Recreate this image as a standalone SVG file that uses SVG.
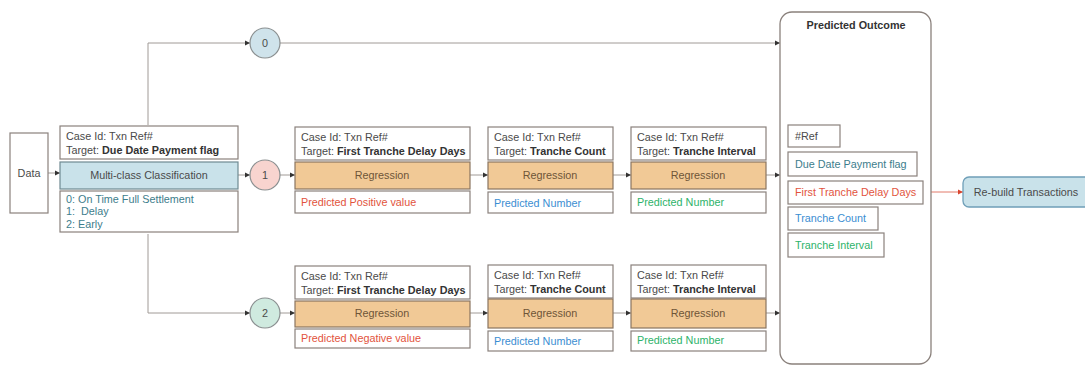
<svg xmlns="http://www.w3.org/2000/svg" width="1085" height="366" viewBox="0 0 1085 366">
<style>
text{font-family:"Liberation Sans",Arial,sans-serif;font-size:10.8px;fill:#4a4a4a}
.b{font-weight:bold;fill:#333}
.box{fill:#fff;stroke:#8a817c;stroke-width:1.2}
.reg{fill:#f1c996;stroke:#8a7560;stroke-width:1.2}
.cls{fill:#c9e2ea;stroke:#6f8a92;stroke-width:1.2}
.ln{fill:none;stroke:#a09a96;stroke-width:1}
.c{text-anchor:middle}
.rt{fill:#6e5538}
.teal{fill:#3d7d8c}.red{fill:#e2533d}.blue{fill:#3b8ed2}.green{fill:#2db36a}
</style>
<defs>
<marker id="ah" markerWidth="6" markerHeight="6" refX="5" refY="3" orient="auto" markerUnits="userSpaceOnUse"><path d="M0,0.5 L5,3 L0,5.5 Z" fill="#333"/></marker>
<marker id="ahr" markerWidth="6" markerHeight="6" refX="5" refY="3" orient="auto" markerUnits="userSpaceOnUse"><path d="M0,0.5 L5,3 L0,5.5 Z" fill="#d9442e"/></marker>
</defs>
<g id="connectors">
<line class="ln" x1="48" y1="173" x2="60" y2="173" marker-end="url(#ah)"/>
<polyline class="ln" points="148,125 148,43 250,43" marker-end="url(#ah)"/>
<line class="ln" x1="280" y1="43" x2="780" y2="43" marker-end="url(#ah)"/>
<line class="ln" x1="238" y1="175" x2="250" y2="175" marker-end="url(#ah)"/>
<line class="ln" x1="280" y1="175" x2="295" y2="175" marker-end="url(#ah)"/>
<line class="ln" x1="470" y1="175" x2="488" y2="175" marker-end="url(#ah)"/>
<line class="ln" x1="613" y1="175" x2="631" y2="175" marker-end="url(#ah)"/>
<line class="ln" x1="766" y1="175" x2="780" y2="175" marker-end="url(#ah)"/>
<polyline class="ln" points="148,234 148,313 250,313" marker-end="url(#ah)"/>
<line class="ln" x1="280" y1="313" x2="295" y2="313" marker-end="url(#ah)"/>
<line class="ln" x1="470" y1="313" x2="488" y2="313" marker-end="url(#ah)"/>
<line class="ln" x1="613" y1="313" x2="631" y2="313" marker-end="url(#ah)"/>
<line class="ln" x1="766" y1="313" x2="780" y2="313" marker-end="url(#ah)"/>
<line x1="930" y1="192" x2="963" y2="192" stroke="#e27a6a" stroke-width="1" marker-end="url(#ahr)"/>
</g>
<g id="data">
<rect class="box" x="10" y="133" width="38" height="80"/>
<text class="c" x="29" y="177">Data</text>
</g>
<g id="classification">
<rect class="box" x="60" y="126" width="178" height="33"/>
<text x="66" y="140">Case Id: Txn Ref#</text>
<text x="66" y="154">Target: <tspan class="b">Due Date Payment flag</tspan></text>
<rect class="cls" x="60" y="162" width="178" height="27"/>
<text class="c" x="149" y="179">Multi-class Classification</text>
<rect class="box" x="60" y="191" width="178" height="41"/>
<text class="teal" x="66" y="203">0: On Time Full Settlement</text>
<text class="teal" x="66" y="215">1:&#160; Delay</text>
<text class="teal" x="66" y="228">2: Early</text>
</g>
<g id="circle0">
<circle cx="265" cy="43" r="15" fill="#cfe3eb" stroke="#8a8f90" stroke-width="1.2"/>
<text class="c" x="265" y="47">0</text>
</g>
<g id="circle1">
<circle cx="265" cy="175" r="15" fill="#f8d4cf" stroke="#8a8f90" stroke-width="1.2"/>
<text class="c" x="265" y="179">1</text>
</g>
<g id="circle2">
<circle cx="265" cy="313" r="15" fill="#cfeadf" stroke="#8a8f90" stroke-width="1.2"/>
<text class="c" x="265" y="317">2</text>
</g>
<g id="reg1a">
<rect class="box" x="295" y="127" width="175" height="33"/>
<text x="301" y="141">Case Id: Txn Ref#</text>
<text x="301" y="155">Target: <tspan class="b">First Tranche Delay Days</tspan></text>
<rect class="reg" x="295" y="162" width="175" height="27"/>
<text class="c rt" x="382" y="179">Regression</text>
<rect class="box" x="295" y="191" width="175" height="22"/>
<text class="red" x="301" y="206">Predicted Positive value</text>
</g>
<g id="reg2a">
<rect class="box" x="488" y="127" width="125" height="33"/>
<text x="494" y="141">Case Id: Txn Ref#</text>
<text x="494" y="155">Target: <tspan class="b">Tranche Count</tspan></text>
<rect class="reg" x="488" y="162" width="125" height="27"/>
<text class="c rt" x="550" y="179">Regression</text>
<rect class="box" x="488" y="192" width="125" height="21"/>
<text class="blue" x="494" y="207">Predicted Number</text>
</g>
<g id="reg3a">
<rect class="box" x="631" y="127" width="135" height="33"/>
<text x="637" y="141">Case Id: Txn Ref#</text>
<text x="637" y="155">Target: <tspan class="b">Tranche Interval</tspan></text>
<rect class="reg" x="631" y="162" width="135" height="27"/>
<text class="c rt" x="698" y="179">Regression</text>
<rect class="box" x="631" y="192" width="135" height="21"/>
<text class="green" x="637" y="206">Predicted Number</text>
</g>
<g id="reg1b">
<rect class="box" x="295" y="266" width="175" height="33"/>
<text x="301" y="280">Case Id: Txn Ref#</text>
<text x="301" y="294">Target: <tspan class="b">First Tranche Delay Days</tspan></text>
<rect class="reg" x="295" y="301" width="175" height="26"/>
<text class="c rt" x="382" y="317">Regression</text>
<rect class="box" x="295" y="329" width="175" height="19"/>
<text class="red" x="301" y="342">Predicted Negative value</text>
</g>
<g id="reg2b">
<rect class="box" x="488" y="265" width="125" height="33"/>
<text x="494" y="279">Case Id: Txn Ref#</text>
<text x="494" y="293">Target: <tspan class="b">Tranche Count</tspan></text>
<rect class="reg" x="488" y="299" width="125" height="29"/>
<text class="c rt" x="550" y="317">Regression</text>
<rect class="box" x="488" y="331" width="125" height="20"/>
<text class="blue" x="494" y="345">Predicted Number</text>
</g>
<g id="reg3b">
<rect class="box" x="631" y="265" width="135" height="33"/>
<text x="637" y="279">Case Id: Txn Ref#</text>
<text x="637" y="293">Target: <tspan class="b">Tranche Interval</tspan></text>
<rect class="reg" x="631" y="299" width="135" height="29"/>
<text class="c rt" x="698" y="317">Regression</text>
<rect class="box" x="631" y="331" width="135" height="20"/>
<text class="green" x="637" y="344">Predicted Number</text>
</g>
<g id="outcome">
<rect x="780" y="12" width="151" height="352" rx="12" fill="#fff" stroke="#8a817c" stroke-width="1.3"/>
<text class="c b" x="856" y="29">Predicted Outcome</text>
<rect class="box" x="788" y="125" width="52" height="22"/>
<text x="795" y="140">#Ref</text>
<rect class="box" x="788" y="152" width="129" height="24"/>
<text class="teal" x="795" y="168">Due Date Payment flag</text>
<rect class="box" x="788" y="181" width="135" height="23"/>
<text class="red" x="795" y="196">First Tranche Delay Days</text>
<rect class="box" x="788" y="207" width="90" height="23"/>
<text class="blue" x="795" y="222">Tranche Count</text>
<rect class="box" x="788" y="233" width="96" height="24"/>
<text class="green" x="795" y="249">Tranche Interval</text>
</g>
<g id="rebuild">
<rect x="963" y="177" width="130" height="30" rx="6" fill="#c9e2ea" stroke="#6f9fb8" stroke-width="1.3"/>
<text class="c" x="1026" y="196">Re-build Transactions</text>
</g>
</svg>
